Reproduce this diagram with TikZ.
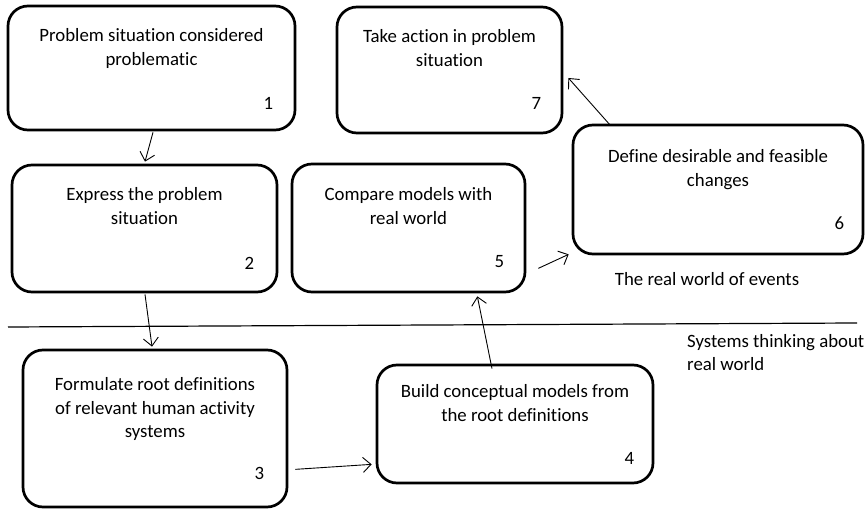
\documentclass[tikz,border=0pt]{standalone}
\usepackage{fontspec}
\setmainfont{Carlito}[Ligatures=NoCommon]
\usetikzlibrary{positioning,arrows.meta}

\tikzset{
  stage/.style={draw,line width=2.7pt,rounded corners=20pt,inner sep=0pt},
  stagetext/.style={align=center,inner sep=0pt,font=\fontsize{18.8}{23.5}\selectfont},
  stagenum/.style={inner sep=0pt,font=\fontsize{18.8}{20}\selectfont},
  flow/.style={line width=0.9pt,-{Straight Barb[length=8pt,width=15pt]}},
  worldtext/.style={inner sep=0pt,align=left,font=\fontsize{18.8}{23.5}\selectfont}
}

\begin{document}
\begin{tikzpicture}[x=1pt,y=-1pt]
\useasboundingbox (0,0) rectangle (868,510);

% the seven stages
\node[stage,minimum width=287pt,minimum height=124pt] (b1) at (151.5,68) {};
\node[stage,minimum width=265pt,minimum height=127pt] (b2) at (144.5,228.5) {};
\node[stage,minimum width=264pt,minimum height=157pt] (b3) at (155,428.5) {};
\node[stage,minimum width=276pt,minimum height=118pt] (b4) at (515,424) {};
\node[stage,minimum width=233pt,minimum height=128pt] (b5) at (408.5,228) {};
\node[stage,minimum width=290pt,minimum height=129pt] (b6) at (718,189.5) {};
\node[stage,minimum width=225pt,minimum height=126pt] (b7) at (449.5,70) {};

\node[stagetext,below=24pt of b1.north] (t1) {Problem situation considered\\problematic};
\node[stagetext,below=24pt of b2.north] (t2) {Express the problem\\situation};
\node[stagetext,below=29pt of b3.north] (t3) {Formulate root definitions\\of relevant human activity\\systems};
\node[stagetext,below=21pt of b4.north] (t4) {Build conceptual models from\\the root definitions};
\node[stagetext,below=25pt of b5.north] (t5) {Compare models with\\real world};
\node[stagetext,below=26pt of b6.north] (t6) {Define desirable and feasible\\changes};
\node[stagetext,below=24pt of b7.north] (t7) {Take action in problem\\situation};

\node[stagenum] (n1) at ([shift={(-28,-28)}]b1.south east) {1};
\node[stagenum] (n2) at ([shift={(-29,-30)}]b2.south east) {2};
\node[stagenum] (n3) at ([shift={(-29,-35)}]b3.south east) {3};
\node[stagenum] (n4) at ([shift={(-25,-26)}]b4.south east) {4};
\node[stagenum] (n5) at ([shift={(-27,-32)}]b5.south east) {5};
\node[stagenum] (n6) at ([shift={(-25,-32)}]b6.south east) {6};
\node[stagenum] (n7) at ([shift={(-27,-31)}]b7.south east) {7};

% flow between stages
\draw[flow] ([shift={(1.5,1)}]b1.south) -- ([shift={(0.5,-2)}]b2.north);
\draw[flow] ([shift={(0.5,1)}]b2.south) -- ([shift={(-3,-2)}]b3.north);
\draw[flow] ([shift={(7,-39)}]b3.south east) -- ([shift={(-4,-20)}]b4.south west);
\draw[flow] ([shift={(-23,5)}]b4.north) -- ([shift={(-49,3)}]b5.south east);
\draw[flow] ([shift={(12,-25)}]b5.south east) -- ([shift={(-3,-1)}]b6.south west);
\draw[flow] ([shift={(39,2)}]b6.north west) -- ([shift={(5,8)}]b7.east);

% real world / systems thinking divide
\coordinate (sepL) at (8,327);
\coordinate (sepR) at (857,323);
\draw[line width=1.2pt] (sepL) -- (sepR);

\node[worldtext] (real) at (707,279) {The real world of events};
\node[worldtext,anchor=north west] (sys) at (687,334) {Systems thinking about\\real world};
\end{tikzpicture}
\end{document}
